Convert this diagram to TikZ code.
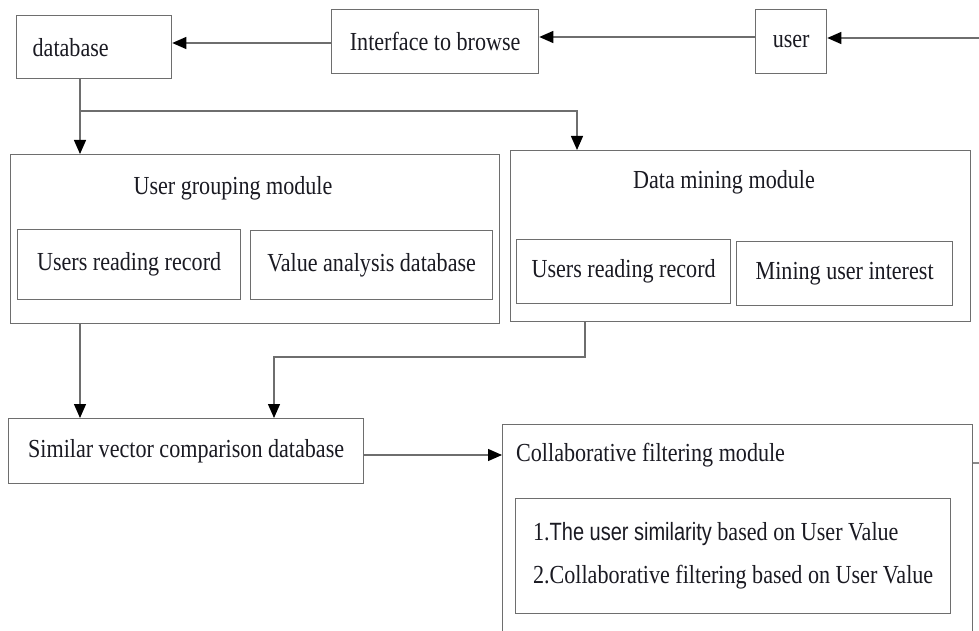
\documentclass[tikz,border=0pt]{standalone}
\usepackage{fontspec}
\setmainfont{Liberation Serif}[FakeStretch=0.85]
\setsansfont{Liberation Sans}[FakeStretch=0.8]
\usepackage{tikz}
\usetikzlibrary{
  arrows.meta,
  positioning,
  calc
}
\definecolor{ubLine}{HTML}{6E6E6E}
\definecolor{ubEdge}{HTML}{8A8A8A}
\definecolor{ubText}{HTML}{1A1A22}
\tikzset{
  ubnode/.style={
    draw=ubLine, line width=1.3pt, anchor=north west, inner sep=0pt,
    font=\fontsize{26}{30}\selectfont, text=ubText, align=center
  },
  ubbox/.style={ubnode, fill=white},
  module/.style={ubnode, fill=white},
  title/.style={font=\fontsize{26}{30}\selectfont, text=ubText, inner sep=0pt},
  link/.style={line width=1.3pt, ubLine},
  flow/.style={link, -{Triangle[length=14pt, width=12pt, black]}}
}
\begin{document}
\begin{tikzpicture}[x=1pt, y=-1pt, node distance=4mm]
  \useasboundingbox (0,0) rectangle (979,631);
  \clip (0,0) rectangle (979,631);
  % top row
  \node[ubbox, minimum width=139pt, minimum height=63pt, align=left, text width=123pt, inner xsep=16pt] (db) at (16,15) {database};
  \node[ubbox, minimum width=207pt, minimum height=64pt] (iface) at (331,9) {Interface to browse};
  \node[ubbox, minimum width=71pt, minimum height=64pt] (usr) at (755,9) {user};
  \coordinate (usrIn) at (979,38);
  % modules
  \node[module, minimum width=489pt, minimum height=169pt] (grp) at (10,154) {};
  \node[title] (grpT) at (233,188) {User grouping module};
  \node[ubbox, minimum width=223pt, minimum height=70pt] (grpA) at (17,229) {Users reading record};
  \node[ubbox, minimum width=242pt, minimum height=69pt] (grpB) at (250,230) {Value analysis database};
  \node[module, minimum width=460pt, minimum height=171pt] (dm) at (510,150) {};
  \node[title] (dmT) at (724,182) {Data mining module};
  \node[ubbox, minimum width=214pt, minimum height=64pt] (dmA) at (516,239) {Users reading record};
  \node[ubbox, minimum width=216pt, minimum height=64pt] (dmB) at (736,241) {Mining user interest};
  % bottom row
  \node[ubbox, minimum width=355pt, minimum height=65pt] (sim) at (8,418) {Similar vector comparison database};
  \node[module, minimum width=470pt, minimum height=260pt] (cf) at (502,424) {};
  \node[title, anchor=west] (cfT) at (516,455) {Collaborative filtering module};
  \node[ubbox, minimum width=435pt, minimum height=115pt, align=left, font=\fontsize{26}{43}\selectfont] (cfL) at (515,498)
    {1.{\sffamily\fontsize{25}{43}\selectfont The user similarity} based on User Value\\2.Collaborative filtering based on User Value};
  \coordinate (cfOut) at (979,463);
  \coordinate (split) at (80,111);
  \coordinate (merge) at (274,357);
  % connectors
  \draw[flow] (usrIn) -- (usrIn -| usr.east);
  \draw[flow] (usr.west |- 0,37) -- (iface.east |- 0,37);
  \draw[flow] (iface.west |- 0,43) -- (db.east |- 0,43);
  \draw[link] (db.south -| split) -- (split);
  \draw[flow] (split) -- (split |- grp.north);
  \draw[flow] (split) -| ([xshift=67pt]dm.north west);
  \draw[flow] (grp.south -| split) -- (sim.north -| split);
  \draw[flow] ([xshift=75pt]dm.south west) |- (merge) -- (merge |- sim.north);
  \draw[flow] (sim.east |- 0,455) -- (cf.west |- 0,455);
  \draw[link, ubEdge] (cfOut -| cf.east) -- (cfOut);
\end{tikzpicture}
\end{document}
